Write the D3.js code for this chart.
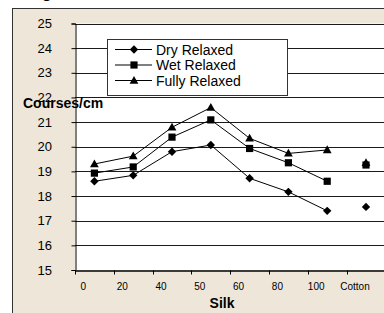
<!DOCTYPE html>
<html>
<head>
<meta charset="utf-8">
<script src="https://cdn.jsdelivr.net/npm/d3@7"></script>
<style>
  html, body { margin: 0; padding: 0; background: #fff; }
  svg { display: block; font-family: "Liberation Sans", Arial, sans-serif; }
</style>
</head>
<body>
<div id="chart"></div>
<script>
// Data
var silkLevels = ["0", "20", "40", "50", "60", "80", "100"];
var categories = silkLevels.concat(["Cotton"]);
var seriesNames = ["Dry Relaxed", "Wet Relaxed", "Fully Relaxed"];
var dryRelaxed = [18.6, 18.84, 19.8, 20.07, 18.72, 18.17, 17.4];
var wetRelaxed = [18.93, 19.18, 20.39, 21.09, 19.93, 19.35, 18.6];
var fullyRelaxed = [19.3, 19.62, 20.79, 21.59, 20.34, 19.73, 19.87];
var cottonValues = [17.56, 19.26, 19.35];
var yTicks = [15, 16, 17, 18, 19, 20, 21, 22, 23, 24, 25];

function setUpChart() {
  var svgWidth = 384;
  var svgHeight = 313;

  var svg = d3.select("#chart")
    .append("svg")
    .attr("width", svgWidth)
    .attr("height", svgHeight);

  // cut-off title (only the descender shows)
  svg.append("text")
    .attr("x", 42)
    .attr("y", -2)
    .attr("font-size", "16px")
    .attr("font-weight", "bold")
    .text("g");

  // beige frame
  svg.append("rect")
    .attr("x", 12.5)
    .attr("y", 8.5)
    .attr("width", 420)
    .attr("height", 400)
    .attr("fill", "#eee7d9")
    .attr("stroke", "#333")
    .attr("stroke-width", 1);

  var x = d3.scaleBand()
    .domain(categories)
    .range([75, 385.4]);

  var y = d3.scaleLinear()
    .domain([15, 25])
    .range([270, 23.5]);

  // plot area
  svg.append("rect")
    .attr("x", x.range()[0])
    .attr("y", y(25))
    .attr("width", 400)
    .attr("height", y(15) - y(25))
    .attr("fill", "#fff");

  // gridlines
  svg.append("g")
    .selectAll("line")
    .data(yTicks.slice(1))
    .enter()
    .append("line")
    .attr("x1", x.range()[0])
    .attr("x2", svgWidth)
    .attr("y1", d => Math.round(y(d)) + 0.5)
    .attr("y2", d => Math.round(y(d)) + 0.5)
    .attr("stroke", "#1a1a1a")
    .attr("stroke-width", 1);

  // left axis
  var leftAxis = d3.axisLeft(y)
    .tickValues(yTicks)
    .tickSize(4)
    .tickFormat("");
  var yAxisG = svg.append("g")
    .attr("transform", "translate(75.5,0)")
    .call(leftAxis);
  yAxisG.select(".domain").attr("stroke", "#000");
  yAxisG.selectAll(".tick line").attr("stroke", "#000");

  svg.append("g")
    .selectAll("text")
    .data(yTicks)
    .enter()
    .append("text")
    .attr("x", 52)
    .attr("y", d => y(d) + 4.6)
    .attr("text-anchor", "end")
    .attr("font-size", "13px")
    .attr("fill", "#000")
    .text(d => d);

  // bottom axis: ticks on category boundaries
  var bottomAxis = d3.axisBottom(x)
    .tickSize(0)
    .tickFormat("");
  var xAxisG = svg.append("g")
    .attr("transform", "translate(0," + (Math.round(y(15)) + 0.5) + ")")
    .call(bottomAxis);
  xAxisG.select(".domain").attr("stroke", "#000").attr("stroke-width", 1.5);
  xAxisG.selectAll(".bound")
    .data(categories)
    .enter()
    .append("line")
    .attr("class", "bound")
    .attr("x1", d => Math.round(x(d)) + 0.5)
    .attr("x2", d => Math.round(x(d)) + 0.5)
    .attr("y1", 0)
    .attr("y2", 4)
    .attr("stroke", "#000");

  svg.append("g")
    .selectAll("text")
    .data(categories)
    .enter()
    .append("text")
    .attr("x", d => x(d) + x.bandwidth() / 2 - 11)
    .attr("y", 289.5)
    .attr("text-anchor", "middle")
    .attr("font-size", "10px")
    .attr("fill", "#000")
    .text(d => d);

  // axis titles
  svg.append("text")
    .attr("x", 222)
    .attr("y", 308)
    .attr("text-anchor", "middle")
    .attr("font-size", "14px")
    .attr("font-weight", "bold")
    .text("Silk");

  svg.append("text")
    .attr("x", 23)
    .attr("y", 108)
    .attr("font-size", "14px")
    .attr("font-weight", "bold")
    .text("Courses/cm");

  // marker shapes
  function markerPath(kind) {
    if (kind === 0) return "M0,-4.2L4.2,0L0,4.2L-4.2,0Z";
    if (kind === 1) return "M-3.6,-3.6H3.6V3.6H-3.6Z";
    return "M0,-4.6L4.4,3.2H-4.4Z";
  }

  var allSeries = [dryRelaxed, wetRelaxed, fullyRelaxed];
  var cx = d => x(d) + x.bandwidth() / 2;

  var line = d3.line()
    .x((d, i) => cx(silkLevels[i]))
    .y(d => y(d));

  allSeries.forEach(function(values, s) {
    svg.append("path")
      .datum(values)
      .attr("d", line)
      .attr("fill", "none")
      .attr("stroke", "#000")
      .attr("stroke-width", 1);

    svg.append("g")
      .selectAll("path")
      .data(values)
      .enter()
      .append("path")
      .attr("transform", (d, i) => "translate(" + cx(silkLevels[i]) + "," + y(d) + ")")
      .attr("d", markerPath(s))
      .attr("fill", "#000");

    svg.append("path")
      .attr("transform", "translate(" + cx("Cotton") + "," + y(cottonValues[s]) + ")")
      .attr("d", markerPath(s))
      .attr("fill", "#000");
  });

  // legend
  var legend = svg.append("g");
  legend.append("rect")
    .attr("x", 107.5)
    .attr("y", 39.5)
    .attr("width", 180)
    .attr("height", 56)
    .attr("fill", "#fff")
    .attr("stroke", "#333");

  var rows = legend.selectAll(".row")
    .data(seriesNames)
    .enter()
    .append("g")
    .attr("class", "row")
    .attr("transform", (d, i) => "translate(0," + (49.5 + i * 15.5) + ")");

  rows.append("line")
    .attr("x1", 115)
    .attr("x2", 152)
    .attr("y1", 0)
    .attr("y2", 0)
    .attr("stroke", "#000");
  rows.append("path")
    .attr("transform", "translate(134,0)")
    .attr("d", (d, i) => markerPath(i))
    .attr("fill", "#000");
  rows.append("text")
    .attr("x", 156)
    .attr("y", 5)
    .attr("font-size", "14px")
    .attr("fill", "#000")
    .text(d => d);
}

setUpChart();
</script>
</body>
</html>
